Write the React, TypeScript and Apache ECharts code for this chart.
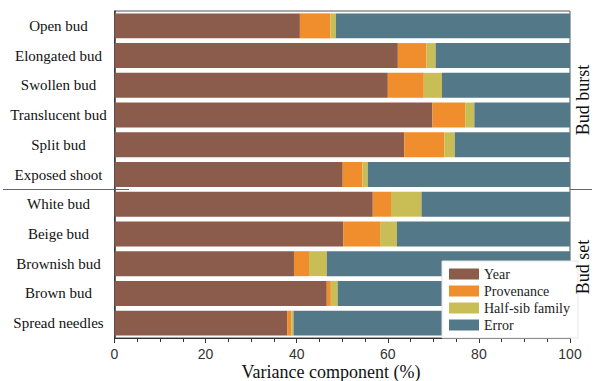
import React, { useEffect, useRef } from "react";
import * as echarts from "echarts";

const categories = [
  "Open bud",
  "Elongated bud",
  "Swollen bud",
  "Translucent bud",
  "Split bud",
  "Exposed shoot",
  "White bud",
  "Beige bud",
  "Brownish bud",
  "Brown bud",
  "Spread needles",
];
const year = [40.7, 62.2, 60.0, 69.8, 63.6, 50.1, 56.7, 50.2, 39.4, 46.6, 37.9];
const provenance = [6.7, 6.3, 7.9, 7.2, 8.8, 4.3, 4.0, 8.1, 3.3, 0.9, 0.9];
const halfSib = [1.2, 2.0, 4.0, 2.0, 2.3, 1.2, 6.7, 3.7, 3.9, 1.5, 0.5];
const errorVals = [51.4, 29.5, 28.1, 21.0, 25.3, 44.4, 32.6, 38.0, 53.4, 51.0, 60.7];
const seriesNames = ["Year", "Provenance", "Half-sib family", "Error"];
const colors = ["#8B5B4B", "#F08D2C", "#C9BE55", "#537888"];
const xTicks = [0, 20, 40, 60, 80, 100];

const serif = "Liberation Serif";
const sans = "Liberation Sans";

export default function App() {
  const ref = useRef<HTMLDivElement>(null);
  useEffect(() => {
    if (!ref.current) return;
    const chart = echarts.init(ref.current, null, { renderer: "svg" });
    const data = [year, provenance, halfSib, errorVals];
    chart.setOption({
      animation: false,
      color: colors,
      grid: {
        left: 114.5,
        right: 30,
        top: 11,
        bottom: 43,
        show: true,
        borderColor: "#555",
        borderWidth: 1,
        backgroundColor: "transparent",
      },
      xAxis: {
        type: "value",
        min: xTicks[0],
        max: xTicks[xTicks.length - 1],
        interval: 20,
        axisLine: { show: true, lineStyle: { color: "#333", width: 1 } },
        axisTick: { show: true, length: 5, lineStyle: { color: "#333" } },
        minorTick: { show: true, splitNumber: 4, length: 4, lineStyle: { color: "#333" } },
        splitLine: { show: false },
        axisLabel: { fontFamily: sans, fontSize: 14, color: "#333", margin: 9, lineHeight: 13 },
      },
      yAxis: {
        type: "category",
        data: categories,
        inverse: true,
        axisLine: { show: true, lineStyle: { color: "#333", width: 1.5 } },
        axisTick: { show: false },
        axisLabel: {
          fontFamily: serif,
          fontSize: 15,
          color: "#111",
          align: "center",
          margin: 56,
        },
      },
      legend: {
        orient: "vertical",
        left: 442,
        top: 261,
        itemWidth: 30,
        itemHeight: 11,
        itemGap: 3,
        icon: "rect",
        padding: [6, 8, 6, 7],
        backgroundColor: "#fff",
        borderColor: "#e4e4e4",
        borderWidth: 1,
        textStyle: { fontFamily: serif, fontSize: 14, color: "#222", lineHeight: 14 },
        data: seriesNames,
      },
      series: seriesNames.map((name, i) => ({
        name,
        type: "bar",
        stack: "total",
        data: data[i],
        barCategoryGap: "16%",
        itemStyle: { color: colors[i] },
      })),
      graphic: [
        {
          type: "line",
          shape: { x1: 3, y1: 189.5, x2: 129, y2: 189.5 },
          style: { stroke: "#666", lineWidth: 1 },
          z: 100,
        },
        {
          type: "line",
          shape: { x1: 570, y1: 189.5, x2: 592, y2: 189.5 },
          style: { stroke: "#666", lineWidth: 1 },
          z: 100,
        },
        {
          type: "text",
          x: 583,
          y: 100,
          rotation: Math.PI / 2,
          z: 100,
          style: {
            text: "Bud burst",
            fontFamily: serif,
            fontSize: 18,
            fill: "#111",
            align: "center",
            verticalAlign: "middle",
          },
        },
        {
          type: "text",
          x: 583,
          y: 267,
          rotation: Math.PI / 2,
          z: 100,
          style: {
            text: "Bud set",
            fontFamily: serif,
            fontSize: 18,
            fill: "#111",
            align: "center",
            verticalAlign: "middle",
          },
        },
        {
          type: "text",
          x: 331,
          y: 372,
          z: 100,
          style: {
            text: "Variance component (%)",
            fontFamily: serif,
            fontSize: 18,
            lineHeight: 17,
            fill: "#111",
            align: "center",
            verticalAlign: "middle",
          },
        },
      ],
    });
    return () => chart.dispose();
  }, []);
  return (
    <div
      ref={ref}
      style={{ position: "fixed", left: 0, top: 0, width: 600, height: 381, background: "#fff" }}
    />
  );
}
